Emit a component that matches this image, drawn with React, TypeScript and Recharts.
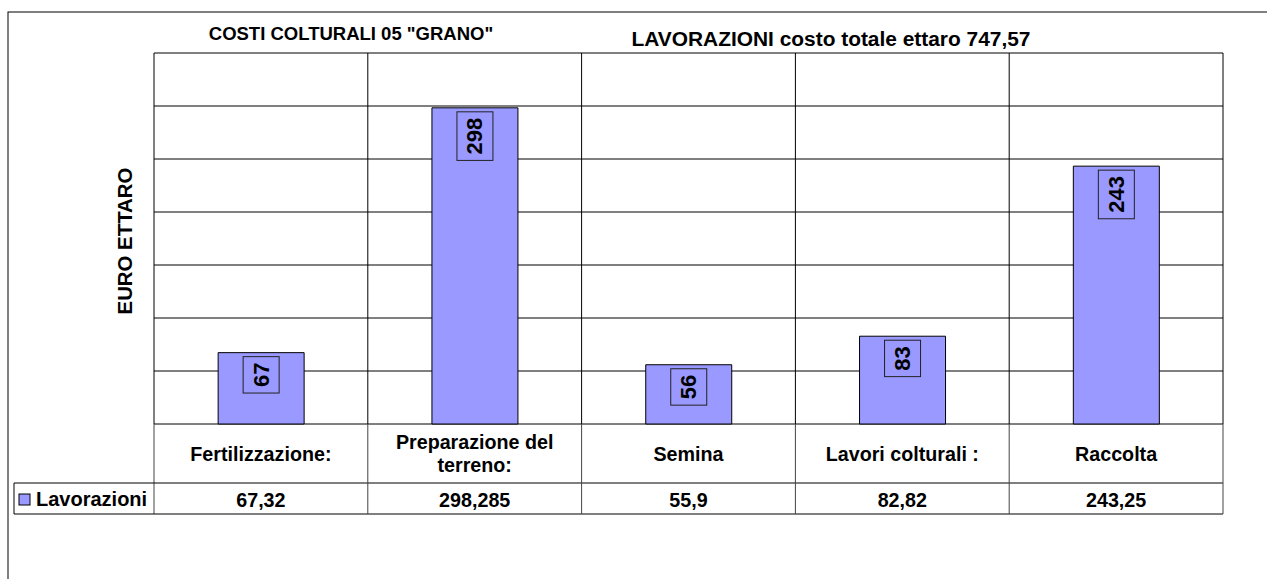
import React from 'react';
import {
  BarChart,
  Bar,
  XAxis,
  YAxis,
  CartesianGrid,
  LabelList,
  Customized,
} from 'recharts';

const categories = [
  'Fertilizzazione:',
  'Preparazione del\nterreno:',
  'Semina',
  'Lavori colturali :',
  'Raccolta',
];
const lavorazioni = [67.32, 298.285, 55.9, 82.82, 243.25];
const yTicks = [0, 50, 100, 150, 200, 250, 300, 350];

const seriesName = 'Lavorazioni';
const title = 'COSTI COLTURALI 05 "GRANO"';
const subtitle = 'LAVORAZIONI costo totale ettaro 747,57';
const yLabel = 'EURO ETTARO';

const data = categories.map((c, i) => ({ category: c, value: lavorazioni[i] }));

const W = 1267;
const H = 579;
const PLOT_LEFT = 154;
const PLOT_RIGHT = 1223;
const PLOT_TOP = 53;
const PLOT_BOTTOM = 424;
const ROW1_BOTTOM = 483;
const ROW2_BOTTOM = 514;
const LEGEND_LEFT = 14;
const FONT = '"Liberation Sans", Arial, sans-serif';
const BAR_FILL = '#9999FF';
const COL_W = (PLOT_RIGHT - PLOT_LEFT) / categories.length;

const fmt = (v: number) => String(v).replace('.', ',');

const CategoryTick = (props: any) => {
  const { x, payload, index } = props;
  const right = x + COL_W / 2;
  const lines = String(payload.value).split('\n');
  const lh = 23;
  const cy = (PLOT_BOTTOM + ROW1_BOTTOM) / 2;
  const startY = cy - ((lines.length - 1) * lh) / 2;
  return (
    <g>
      <line x1={right} y1={PLOT_BOTTOM} x2={right} y2={ROW2_BOTTOM} stroke="#444" />
      {lines.map((l, i) => (
        <text
          key={i}
          x={x}
          y={startY + i * lh}
          textAnchor="middle"
          dominantBaseline="central"
          fontFamily={FONT}
          fontWeight="bold"
          fontSize={19.7}
          fill="#000"
        >
          {l}
        </text>
      ))}
      <text
        x={x}
        y={(ROW1_BOTTOM + ROW2_BOTTOM) / 2 + 1}
        textAnchor="middle"
        dominantBaseline="central"
        fontFamily={FONT}
        fontWeight="bold"
        fontSize={19.7}
        fill="#000"
      >
        {fmt(lavorazioni[index])}
      </text>
    </g>
  );
};

const ValueBox = (props: any) => {
  const { x, y, width, value } = props;
  const txt = String(Math.round(value));
  const len = txt.length * 12.2 + 12;
  const cx = x + width / 2;
  const top = y + 4;
  return (
    <g>
      <rect x={cx - 18} y={top} width={36} height={len} fill={BAR_FILL} stroke="#222" />
      <text
        x={cx}
        y={top + len / 2}
        transform={`rotate(-90 ${cx} ${top + len / 2})`}
        textAnchor="middle"
        dominantBaseline="central"
        fontFamily={FONT}
        fontWeight="bold"
        fontSize={22}
        fill="#000"
      >
        {txt}
      </text>
    </g>
  );
};

const Decorations = () => (
  <g>
    <rect x={8} y={12} width={W} height={H} fill="none" stroke="#000" />
    <text x={351} y={33} textAnchor="middle" dominantBaseline="central" fontFamily={FONT} fontWeight="bold" fontSize={18.5}>
      {title}
    </text>
    <text x={831} y={38} textAnchor="middle" dominantBaseline="central" fontFamily={FONT} fontWeight="bold" fontSize={20.9}>
      {subtitle}
    </text>
    <text
      x={125}
      y={241}
      transform="rotate(-90 125 241)"
      textAnchor="middle"
      dominantBaseline="central"
      fontFamily={FONT}
      fontWeight="bold"
      fontSize={20.4}
    >
      {yLabel}
    </text>
    <line x1={PLOT_LEFT} y1={PLOT_BOTTOM} x2={PLOT_LEFT} y2={ROW2_BOTTOM} stroke="#444" />
    <line x1={LEGEND_LEFT} y1={ROW1_BOTTOM} x2={PLOT_RIGHT} y2={ROW1_BOTTOM} stroke="#000" />
    <line x1={LEGEND_LEFT} y1={ROW2_BOTTOM} x2={PLOT_RIGHT} y2={ROW2_BOTTOM} stroke="#000" />
    <line x1={LEGEND_LEFT} y1={ROW1_BOTTOM} x2={LEGEND_LEFT} y2={ROW2_BOTTOM} stroke="#000" />
    <rect x={19} y={494} width={11} height={11} fill={BAR_FILL} stroke="#000" />
    <text x={36} y={499} dominantBaseline="central" fontFamily={FONT} fontWeight="bold" fontSize={20}>
      {seriesName}
    </text>
  </g>
);

const App = () => {
  return (
    <div style={{ position: 'absolute', left: 0, top: 0, width: W, height: H, background: '#fff' }}>
      <BarChart
        width={W}
        height={H}
        data={data}
        barCategoryGap="30%"
        margin={{ top: PLOT_TOP, right: W - PLOT_RIGHT, left: PLOT_LEFT, bottom: H - PLOT_BOTTOM - 90 }}
      >
        <CartesianGrid
          stroke="#000"
          vertical
          verticalCoordinatesGenerator={({ offset }: any) =>
            categories.map((_, i) => offset.left + (i * offset.width) / categories.length).concat(offset.left + offset.width)
          }
        />
        <XAxis dataKey="category" height={90} axisLine={false} tickLine={false} tick={<CategoryTick />} interval={0} />
        <YAxis hide domain={[0, 350]} ticks={yTicks} />
        <Bar dataKey="value" fill={BAR_FILL} stroke="#000" isAnimationActive={false}>
          <LabelList dataKey="value" content={<ValueBox />} />
        </Bar>
        <Customized component={<Decorations />} />
      </BarChart>
    </div>
  );
};

export default App;
